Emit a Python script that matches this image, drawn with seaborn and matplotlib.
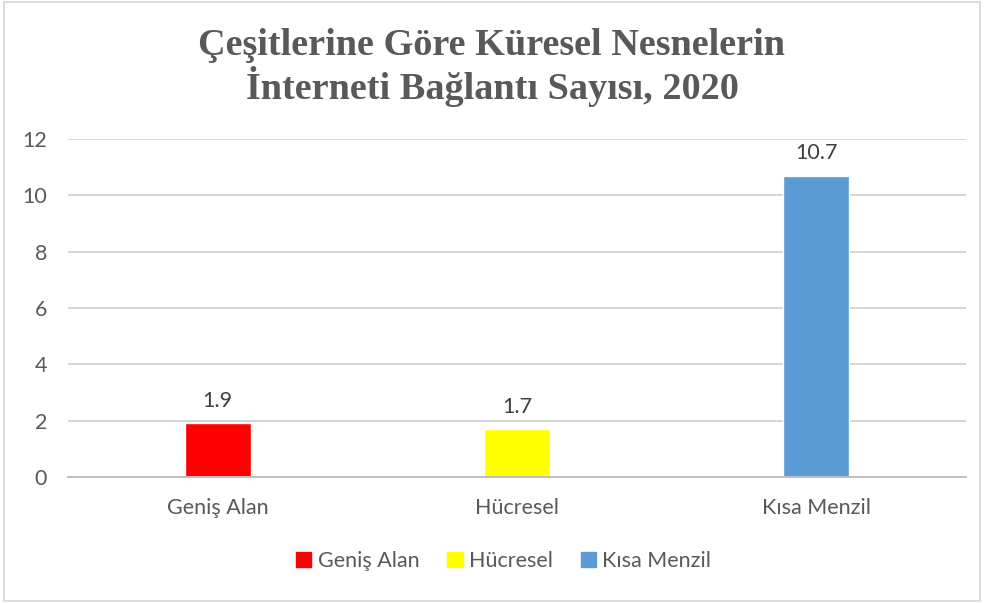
import pandas as pd
import matplotlib.pyplot as plt
import seaborn as sns
from matplotlib.patches import Rectangle

# chart values
categories = ["Geniş Alan", "Hücresel", "Kısa Menzil"]
values = [1.9, 1.7, 10.7]
bar_colors = ["#FF0000", "#FFFF00", "#5B9BD5"]
title = "Çeşitlerine Göre Küresel Nesnelerin\nİnterneti Bağlantı Sayısı, 2020"

df = pd.DataFrame({"kategori": categories, "deger": values})

sns.set_style("white")
plt.rcParams['font.family'] = ['Lato', 'DejaVu Sans']
text_color = "#595959"

fig = plt.figure(figsize=(9.84, 6.03), dpi=100)
ax = fig.add_axes([0.0691, 0.209, 0.9126, 0.5605])

sns.barplot(data=df, x="kategori", y="deger", hue="kategori", saturation=1,
            palette=bar_colors, width=0.22, dodge=False, legend=False, ax=ax)

ax.set_ylim(0, 12)
ax.set_yticks(range(0, 13, 2))
ax.set_xlim(-0.5, 2.5)
ax.grid(axis="y", color="#D0D0D0", linewidth=1.2)
ax.set_axisbelow(True)
for s in ["top", "right", "left"]:
    ax.spines[s].set_visible(False)
ax.spines["bottom"].set_color("#BFBFBF")
ax.spines["bottom"].set_linewidth(1.4)
ax.tick_params(axis="both", length=0, labelsize=15.5, colors=text_color)
ax.tick_params(axis="x", pad=15)
ax.tick_params(axis="y", pad=15)
ax.set_xlabel("")
ax.set_ylabel("")

# value labels
for cont in ax.containers:
    ax.bar_label(cont, fmt="%.1f", padding=9, fontsize=15.5, color="#404040")

# title
fig.text(0.5, 0.888, title, ha="center", va="center", fontsize=27.5,
         fontweight="bold", family="Liberation Serif", color=text_color,
         linespacing=1.08)

# legend
handles = [Rectangle((0, 0), 1, 1, color=c) for c in bar_colors]
fig.legend(handles, categories, loc="center", bbox_to_anchor=(0.512, 0.07),
           ncol=3, frameon=False, fontsize=15.5, handlelength=0.7,
           handleheight=0.7, handletextpad=0.3, columnspacing=1.3,
           labelcolor=text_color)

# outer border
fig.patches.append(Rectangle((0.004, 0.004), 0.992, 0.992, transform=fig.transFigure,
                             fill=False, edgecolor="#D9D9D9", linewidth=1.3))

plt.savefig("out.png", dpi=100)
